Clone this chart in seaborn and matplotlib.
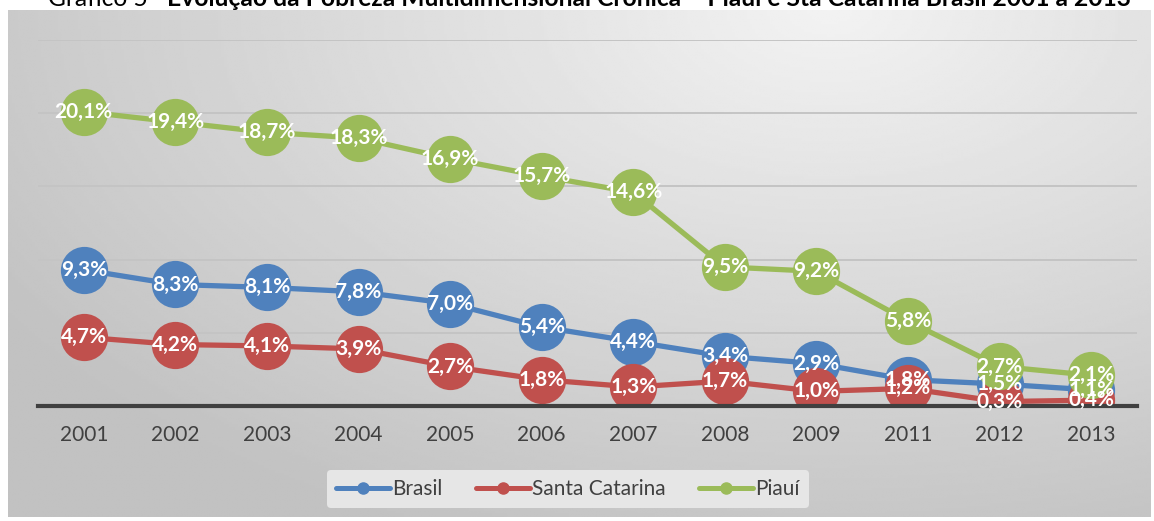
import pandas as pd
import seaborn as sns
import matplotlib.pyplot as plt
import numpy as np
from matplotlib.lines import Line2D

anos = ['2001', '2002', '2003', '2004', '2005', '2006', '2007', '2008', '2009', '2011', '2012', '2013']
brasil = [9.3, 8.3, 8.1, 7.8, 7.0, 5.4, 4.4, 3.4, 2.9, 1.8, 1.5, 1.1]
santa_catarina = [4.7, 4.2, 4.1, 3.9, 2.7, 1.8, 1.3, 1.7, 1.0, 1.2, 0.3, 0.4]
piaui = [20.1, 19.4, 18.7, 18.3, 16.9, 15.7, 14.6, 9.5, 9.2, 5.8, 2.7, 2.1]

series = {'Brasil': brasil, 'Santa Catarina': santa_catarina, 'Piauí': piaui}
cores = {'Brasil': '#4F81BD', 'Santa Catarina': '#C0504D', 'Piauí': '#9BBB59'}

df = pd.concat([pd.DataFrame({'ano': anos, 'valor': v, 'serie': k}) for k, v in series.items()])

sns.set_style("white")
plt.rcParams['font.family'] = ['Lato', 'DejaVu Sans']

W, H = 1154, 521
fig = plt.figure(figsize=(W / 100, H / 100), dpi=100)

# fundo com gradiente (estilo Excel)
bg = fig.add_axes([8 / W, 4 / H, 1143 / W, 507 / H], zorder=-2)
yy, xx = np.mgrid[0:1:200j, 0:1:400j]
d = np.sqrt(((xx - 0.72) / 1.0) ** 2 + ((yy - 0.0) / 1.3) ** 2)
grad = np.clip(0.95 - 0.22 * d, 0.76, 0.95)
bg.imshow(grad, cmap='gray', vmin=0, vmax=1, aspect='auto', origin='upper',
          extent=[0, 1, 0, 1], interpolation='bilinear')
bg.axis('off')

ax = fig.add_axes([38 / W, (H - 406) / H, 1099 / W, 366 / H])
ax.patch.set_alpha(0)

sns.lineplot(data=df, x='ano', y='valor', hue='serie', palette=cores,
             marker='o', markersize=34, markeredgewidth=0, linewidth=3.8,
             sort=False, ax=ax, legend=False)

for k, v in series.items():
    for i, val in enumerate(v):
        ax.text(i, val, f"{val:.1f}%".replace('.', ','), color='white',
                fontsize=15, fontweight='bold', ha='center', va='center', zorder=10)

ax.set_ylim(0, 25)
ax.set_xlim(-0.5, len(anos) - 0.5)
ax.set_yticks([0, 5, 10, 15, 20, 25])
ax.set_yticklabels([])
ax.tick_params(axis='y', length=0)
ax.tick_params(axis='x', length=0, pad=14, labelsize=15, labelcolor='#404040')
ax.grid(axis='y', color='#C4C4C4', linewidth=1.4)
ax.set_axisbelow(True)
for s in ['top', 'right', 'left']:
    ax.spines[s].set_visible(False)
ax.spines['bottom'].set_color('#404040')
ax.spines['bottom'].set_linewidth(3)
ax.set_xlabel('')
ax.set_ylabel('')

handles = [Line2D([0], [0], color=cores[k], linewidth=3.6, marker='o', markersize=8)
           for k in series]
leg = fig.legend(handles, list(series.keys()), loc='center',
                 bbox_to_anchor=(568 / W, (H - 489) / H), ncol=3, frameon=True,
                 fontsize=15, handlelength=2.6, columnspacing=1.6, handletextpad=0.1,
                 borderpad=0.45)
leg.get_frame().set_facecolor('#E6E6E6')
leg.get_frame().set_edgecolor('none')
leg.get_frame().set_alpha(1)
for t in leg.get_texts():
    t.set_color('#404040')

# título cortado no topo
fig.text(48 / W, 1 - 6 / H, 'Gráfico 5 - ', fontsize=17.7, ha='left', va='baseline', color='black')
fig.text(167 / W, 1 - 6 / H,
         'Evolução da Pobreza Multidimensional Crônica – Piauí e Sta Catarina Brasil 2001 a 2013',
         fontsize=17.7, fontweight='bold', ha='left', va='baseline', color='black')

fig.savefig('out.png', dpi=100)
